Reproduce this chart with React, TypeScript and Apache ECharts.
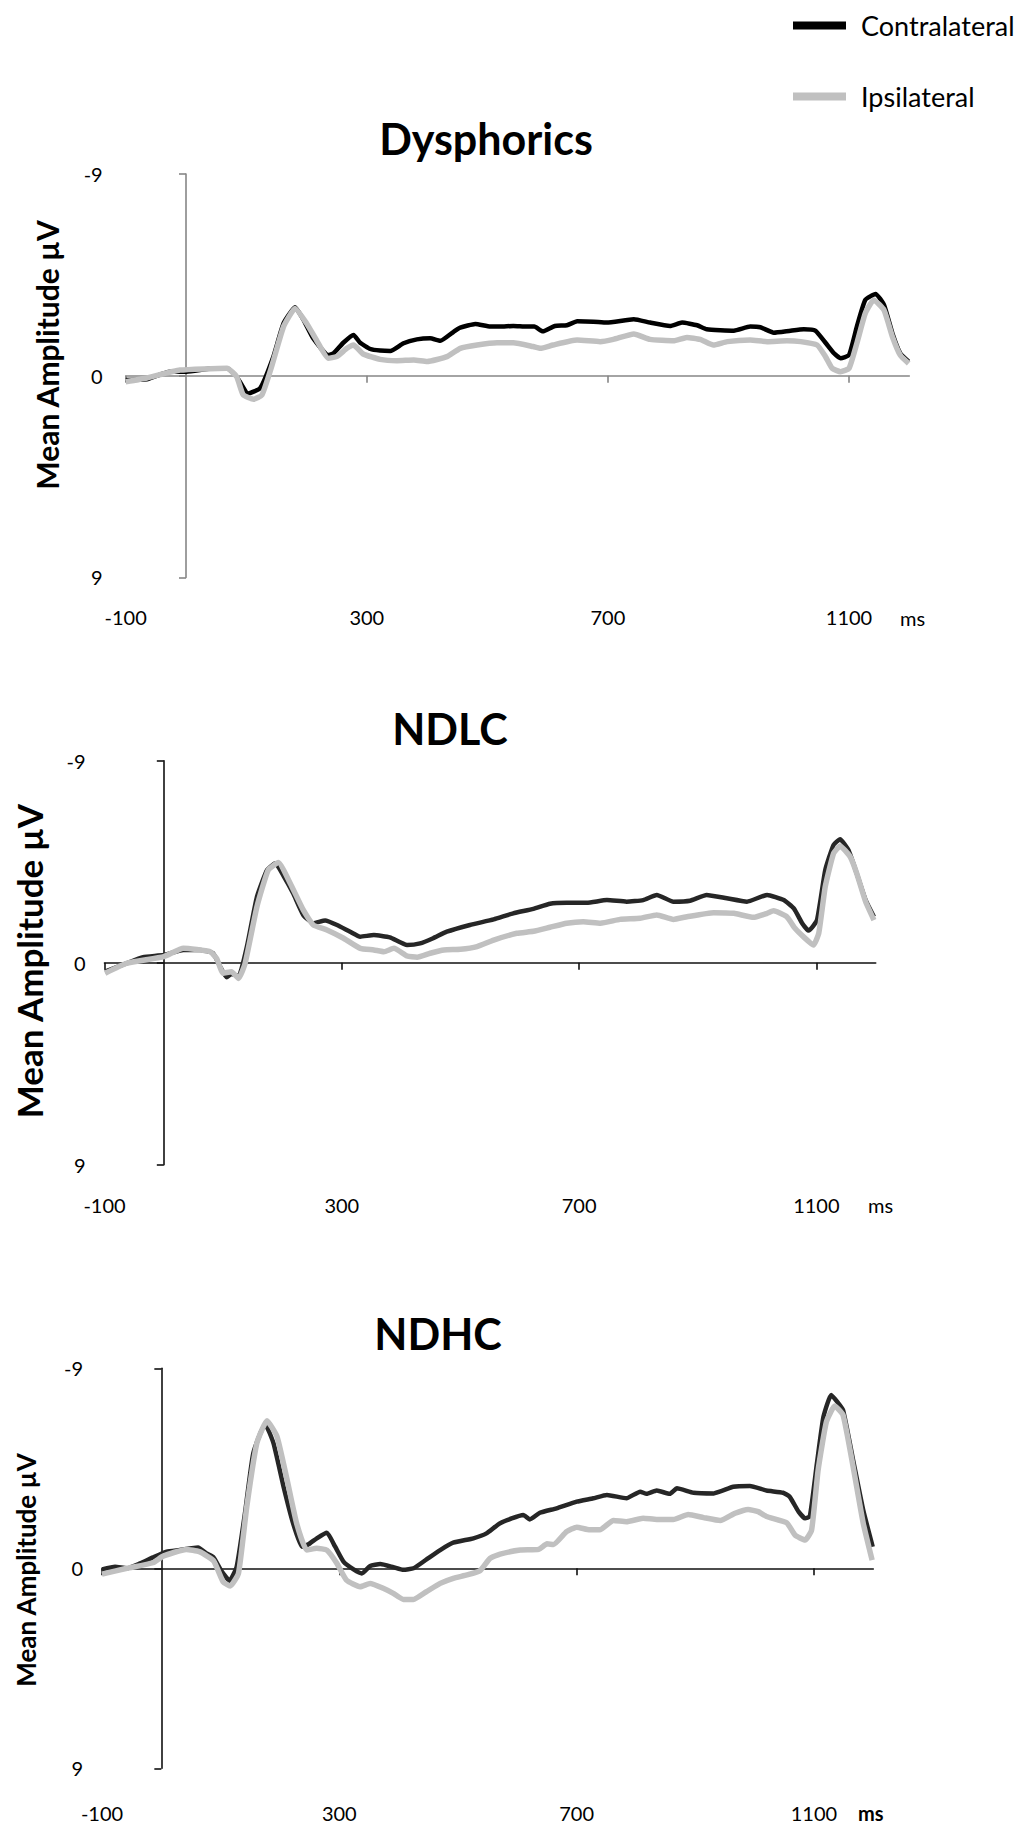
import React, { useEffect, useRef } from "react";
import * as echarts from "echarts";

// ---------- data ----------
const xTickLabels = [-100, 300, 700, 1100];
const yTickLabels = [-9, 0, 9];
const panelTitles = ["Dysphorics", "NDLC", "NDHC"];
const seriesNames = ["Contralateral", "Ipsilateral"];

// Dysphorics
const dysContraMs = [-100, -65, -27, 1, 45, 68, 84, 103, 123, 145, 162, 181, 195, 211, 236, 245, 261, 278, 289, 306, 322, 339, 361, 383, 405, 422, 444, 455, 480, 505, 521, 543, 565, 578, 592, 612, 632, 649, 676, 698, 743, 770, 803, 823, 848, 864, 909, 936, 953, 975, 1003, 1025, 1044, 1061, 1075, 1086, 1100, 1113, 1127, 1144, 1158, 1172, 1185, 1199];
const dysContraUv = [0.19, 0.16, -0.18, -0.18, -0.33, -0.33, 0.04, 0.79, 0.56, -0.85, -2.34, -3.05, -2.49, -1.67, -0.92, -1.0, -1.47, -1.82, -1.47, -1.19, -1.12, -1.1, -1.45, -1.62, -1.67, -1.56, -1.96, -2.14, -2.31, -2.19, -2.19, -2.22, -2.19, -2.19, -1.98, -2.22, -2.25, -2.43, -2.41, -2.37, -2.52, -2.37, -2.22, -2.37, -2.25, -2.07, -2.01, -2.19, -2.16, -1.92, -2.01, -2.07, -2.01, -1.47, -1.0, -0.78, -0.92, -2.19, -3.38, -3.65, -3.16, -1.89, -1.0, -0.63];
const dysIpsiMs = [-100, -65, -10, 68, 84, 95, 112, 126, 142, 162, 181, 200, 217, 236, 250, 267, 278, 294, 322, 350, 378, 400, 433, 455, 483, 516, 543, 576, 588, 609, 649, 687, 709, 743, 770, 809, 831, 853, 875, 898, 936, 964, 997, 1020, 1047, 1061, 1072, 1086, 1100, 1113, 1127, 1141, 1158, 1172, 1185, 1199];
const dysIpsiUv = [0.27, 0.1, -0.25, -0.33, 0.04, 0.86, 1.05, 0.86, -0.4, -2.2, -3.0, -2.34, -1.56, -0.78, -0.85, -1.22, -1.37, -0.97, -0.73, -0.67, -0.7, -0.63, -0.85, -1.22, -1.37, -1.47, -1.47, -1.3, -1.22, -1.37, -1.59, -1.52, -1.62, -1.86, -1.62, -1.56, -1.71, -1.62, -1.37, -1.52, -1.59, -1.52, -1.56, -1.52, -1.37, -0.85, -0.33, -0.18, -0.33, -1.45, -2.79, -3.38, -2.93, -1.74, -0.92, -0.55];

// NDLC
const ndlcContraMs = [-99, -63, -35, 0, 33, 61, 83, 95, 106, 114, 126, 140, 157, 174, 188, 202, 218, 235, 252, 272, 292, 314, 331, 354, 381, 410, 432, 454, 477, 516, 556, 589, 623, 651, 679, 713, 747, 780, 808, 831, 859, 887, 915, 949, 983, 1017, 1045, 1062, 1076, 1087, 1101, 1115, 1129, 1140, 1154, 1168, 1183, 1197];
const ndlcContraUv = [0.4, 0.03, -0.24, -0.34, -0.57, -0.57, -0.42, 0.18, 0.65, 0.5, 0.6, -0.71, -2.94, -4.13, -4.43, -3.86, -3.09, -2.13, -1.76, -1.88, -1.68, -1.38, -1.16, -1.23, -1.13, -0.79, -0.86, -1.09, -1.38, -1.68, -1.93, -2.2, -2.4, -2.63, -2.67, -2.67, -2.79, -2.72, -2.79, -3.02, -2.72, -2.76, -3.02, -2.87, -2.72, -3.02, -2.79, -2.42, -1.76, -1.43, -1.9, -4.13, -5.25, -5.5, -5.02, -3.98, -2.79, -2.05];
const ndlcIpsiMs = [-99, -63, 0, 33, 78, 89, 100, 114, 126, 137, 157, 176, 193, 213, 235, 252, 275, 303, 331, 354, 371, 388, 410, 427, 449, 472, 500, 528, 556, 595, 623, 651, 679, 707, 736, 769, 803, 831, 859, 882, 927, 961, 994, 1017, 1028, 1050, 1064, 1078, 1095, 1104, 1115, 1129, 1140, 1157, 1168, 1183, 1197];
const ndlcIpsiUv = [0.47, 0.03, -0.27, -0.64, -0.49, -0.19, 0.47, 0.4, 0.7, 0.03, -2.5, -4.13, -4.46, -3.54, -2.35, -1.68, -1.46, -1.09, -0.64, -0.57, -0.49, -0.64, -0.3, -0.24, -0.42, -0.57, -0.6, -0.72, -1.01, -1.31, -1.4, -1.58, -1.76, -1.83, -1.76, -1.93, -1.98, -2.13, -1.93, -2.05, -2.23, -2.2, -2.02, -2.2, -2.31, -2.05, -1.53, -1.16, -0.79, -1.31, -3.39, -4.87, -5.2, -4.72, -3.98, -2.72, -1.9];

// NDHC
const ndhcContraMs = [-100, -78, -58, -36, -14, 9, 31, 62, 76, 88, 102, 115, 127, 141, 155, 175, 189, 206, 222, 237, 248, 262, 279, 293, 307, 324, 338, 352, 369, 391, 408, 425, 447, 470, 492, 526, 548, 571, 610, 621, 638, 666, 700, 728, 751, 784, 807, 818, 835, 857, 869, 897, 931, 964, 992, 1020, 1048, 1059, 1074, 1085, 1093, 1105, 1116, 1129, 1139, 1149, 1166, 1183, 1199];
const ndhcContraUv = [0.05, -0.07, 0, -0.22, -0.49, -0.75, -0.82, -0.94, -0.67, -0.49, 0.15, 0.56, -0.07, -2.48, -5.18, -6.49, -5.63, -3.67, -2.03, -0.97, -1.08, -1.35, -1.6, -0.97, -0.3, 0.05, 0.23, -0.1, -0.19, -0.05, 0.07, 0, -0.4, -0.82, -1.15, -1.35, -1.57, -2.03, -2.4, -2.2, -2.5, -2.7, -3.0, -3.15, -3.3, -3.15, -3.45, -3.35, -3.5, -3.35, -3.6, -3.4, -3.37, -3.67, -3.7, -3.5, -3.4, -3.22, -2.55, -2.25, -2.33, -4.72, -6.82, -7.8, -7.5, -7.12, -4.87, -2.62, -0.97];
const ndhcIpsiMs = [-100, -58, -14, 3, 42, 64, 88, 104, 116, 130, 144, 161, 178, 195, 212, 228, 245, 262, 279, 296, 312, 335, 352, 374, 391, 408, 425, 447, 470, 492, 515, 537, 554, 571, 605, 636, 650, 661, 683, 700, 722, 739, 762, 784, 812, 835, 863, 888, 914, 942, 967, 989, 1006, 1020, 1054, 1068, 1085, 1096, 1107, 1121, 1135, 1149, 1166, 1183, 1198];
const ndhcIpsiUv = [0.26, 0, -0.25, -0.55, -0.85, -0.75, -0.34, 0.6, 0.8, 0.23, -2.77, -5.63, -6.64, -5.93, -3.98, -2.03, -0.82, -0.9, -0.82, -0.22, 0.53, 0.83, 0.68, 0.9, 1.13, 1.4, 1.4, 1.05, 0.68, 0.45, 0.3, 0.11, -0.45, -0.64, -0.82, -0.85, -1.1, -1.07, -1.65, -1.85, -1.73, -1.73, -2.15, -2.1, -2.25, -2.2, -2.2, -2.42, -2.28, -2.15, -2.48, -2.65, -2.55, -2.33, -2.05, -1.5, -1.27, -1.72, -4.42, -6.6, -7.3, -6.9, -4.57, -2.03, -0.37];

const panelData = [
  [[dysContraMs, dysContraUv], [dysIpsiMs, dysIpsiUv]],
  [[ndlcContraMs, ndlcContraUv], [ndlcIpsiMs, ndlcIpsiUv]],
  [[ndhcContraMs, ndhcContraUv], [ndhcIpsiMs, ndhcIpsiUv]],
];

// ---------- layout / style ----------
const FONT = "Lato, 'Open Sans', sans-serif";
const panels = [
  { left: 125.7, top: 174, width: 783.6, height: 403.4, axisColor: "#868686", contraColor: "#000000", labelMarginX: 30, labelMarginY: 23, titleX: 486, titleY: 138, yTitleX: 47, yTitleY: 355, yTitleSize: 30, msX: 900, msY: 618, msBold: false },
  { left: 104.5, top: 760.7, width: 771.2, height: 404, axisColor: "#111111", contraColor: "#262626", labelMarginX: 30, labelMarginY: 19, titleX: 450, titleY: 728, yTitleX: 29, yTitleY: 961, yTitleSize: 35, msX: 868, msY: 1205, msBold: false },
  { left: 102, top: 1368.3, width: 771.3, height: 400, axisColor: "#111111", contraColor: "#262626", labelMarginX: 35, labelMarginY: 19, titleX: 438, titleY: 1333, yTitleX: 26, yTitleY: 1570, yTitleSize: 26, msX: 858, msY: 1813, msBold: true },
];
const IPSI_COLOR = "#c0c0c0";

function pairs(ms: number[], uv: number[]) {
  return ms.map((m, i) => [m, uv[i]]);
}

function buildOption() {
  const grid: any[] = [];
  const xAxis: any[] = [];
  const yAxis: any[] = [];
  const series: any[] = [];
  const graphic: any[] = [];

  panels.forEach((p, i) => {
    grid.push({ left: p.left, top: p.top, width: p.width, height: p.height, containLabel: false });
    const axisLineStyle = { color: p.axisColor, width: 1.6 };
    xAxis.push({
      type: "value", gridIndex: i, min: -100, max: 1200,
      axisLine: { show: true, onZero: true, onZeroAxisIndex: 2 * i, lineStyle: axisLineStyle },
      axisTick: { show: true, customValues: xTickLabels, length: 7, lineStyle: axisLineStyle },
      axisLabel: { show: false }, splitLine: { show: false },
    });
    xAxis.push({
      type: "value", gridIndex: i, position: "bottom", min: -100, max: 1200,
      axisLine: { show: false, onZero: false }, axisTick: { show: false },
      axisLabel: { show: true, customValues: xTickLabels, margin: p.labelMarginX, fontSize: 20, fontFamily: FONT, color: "#000", formatter: (v: number) => String(v) },
      splitLine: { show: false },
    });
    yAxis.push({
      type: "value", gridIndex: i, inverse: true, min: -9, max: 9,
      axisLine: { show: true, onZero: true, onZeroAxisIndex: 2 * i, lineStyle: axisLineStyle },
      axisTick: { show: true, customValues: yTickLabels, length: 7, lineStyle: axisLineStyle },
      axisLabel: { show: false }, splitLine: { show: false },
    });
    yAxis.push({
      type: "value", gridIndex: i, position: "left", inverse: true, min: -9, max: 9,
      axisLine: { show: false, onZero: false }, axisTick: { show: false },
      axisLabel: { show: true, customValues: yTickLabels, margin: p.labelMarginY, fontSize: 20, fontFamily: FONT, color: "#000", formatter: (v: number) => String(v) },
      splitLine: { show: false },
    });

    const [contra, ipsi] = panelData[i];
    series.push({
      name: seriesNames[0], type: "line", xAxisIndex: 2 * i, yAxisIndex: 2 * i,
      data: pairs(contra[0], contra[1]), showSymbol: false, smooth: 0.15,
      lineStyle: { color: p.contraColor, width: 4.5 }, itemStyle: { color: p.contraColor },
    });
    series.push({
      name: seriesNames[1], type: "line", xAxisIndex: 2 * i, yAxisIndex: 2 * i,
      data: pairs(ipsi[0], ipsi[1]), showSymbol: false, smooth: 0.15,
      lineStyle: { color: IPSI_COLOR, width: 5.5 }, itemStyle: { color: IPSI_COLOR },
    });

    graphic.push({
      type: "text", x: p.titleX, y: p.titleY,
      style: { text: panelTitles[i], fontFamily: FONT, fontWeight: "bold", fontSize: 43, fill: "#000", align: "center", verticalAlign: "middle" },
    });
    graphic.push({
      type: "text", x: p.yTitleX, y: p.yTitleY, rotation: Math.PI / 2,
      style: { text: "Mean Amplitude µV", fontFamily: FONT, fontWeight: "bold", fontSize: p.yTitleSize, fill: "#000", align: "center", verticalAlign: "middle" },
    });
    graphic.push({
      type: "text", x: p.msX, y: p.msY,
      style: { text: "ms", fontFamily: FONT, fontWeight: p.msBold ? "bold" : "normal", fontSize: 20, fill: "#000", align: "left", verticalAlign: "middle" },
    });
  });

  return {
    animation: false,
    backgroundColor: "#ffffff",
    legend: {
      orient: "vertical", left: 793, top: 12, itemGap: 44, itemWidth: 53, itemHeight: 8, padding: 0,
      icon: "rect",
      data: [
        { name: seriesNames[0], itemStyle: { color: "#000000" } },
        { name: seriesNames[1], itemStyle: { color: IPSI_COLOR } },
      ],
      textStyle: { fontSize: 27, fontFamily: FONT, color: "#000", padding: [0, 0, 6, 10] },
      selectedMode: false,
    },
    grid, xAxis, yAxis, series, graphic,
  };
}

export default function App() {
  const ref = useRef<HTMLDivElement>(null);
  useEffect(() => {
    document.body.style.margin = "0";
    if (!ref.current) return;
    const chart = echarts.init(ref.current, undefined, { renderer: "svg" });
    chart.setOption(buildOption() as any);
    return () => chart.dispose();
  }, []);
  return <div ref={ref} style={{ width: 1021, height: 1828 }} />;
}
